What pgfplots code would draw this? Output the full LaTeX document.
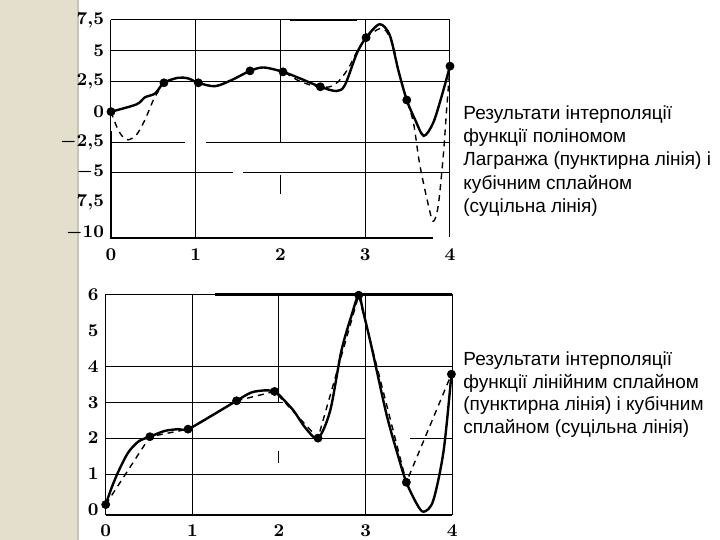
\documentclass[border=0pt]{standalone}
\usepackage{pgfplots}
\pgfplotsset{compat=1.18}
\usepackage{fontspec}
\newfontfamily\arialfont{Liberation Sans}
\definecolor{slidebg}{RGB}{228,223,205}
\definecolor{slideshadow}{RGB}{200,196,182}

\begin{document}
\begin{tikzpicture}
\useasboundingbox (0,0) rectangle (360pt,270pt);
\fill[white] (0,0) rectangle (360pt,270pt);
\fill[slidebg] (0,0) rectangle (38.5pt,270pt);
\fill[slideshadow] (38.5pt,0) rectangle (39.5pt,270pt);

% ---------------- top plot: Lagrange polynomial vs cubic spline
\begin{axis}[
  at={(55.5pt,151pt)}, anchor=south west,
  scale only axis, width=169.5pt, height=109pt,
  xmin=0, xmax=4, ymin=-10.4, ymax=7.55,
  axis line style={draw=none},
  xtick={0,1,2,3,4},
  ytick={-10,-7.5,-5,-2.5,0,2.5,5,7.5},
  yticklabels={$-10$,$7{,}5$,$-5$,$-2{,}5$,$0$,$2{,}5$,$5$,$7{,}5$},
  major tick length=0pt,
  tick label style={font=\boldmath\fontsize{9}{10}\selectfont},
  xticklabel style={yshift=-2pt},
  clip=false,
]
% grid lines
\draw[line width=0.5pt] (axis cs:0,5) -- (axis cs:4,5);
\draw[line width=0.5pt] (axis cs:0,2.5) -- (axis cs:4,2.5);
\draw[line width=0.5pt] (axis cs:0,-2.5) -- (axis cs:0.87,-2.5);
\draw[line width=0.5pt] (axis cs:1.12,-2.5) -- (axis cs:4,-2.5);
\draw[line width=0.5pt] (axis cs:0,-5) -- (axis cs:1.44,-5);
\draw[line width=0.5pt] (axis cs:1.56,-5) -- (axis cs:4,-5);
\draw[line width=0.5pt] (axis cs:1,7.55) -- (axis cs:1,-10.4);
\draw[line width=0.5pt] (axis cs:2,7.55) -- (axis cs:2,-2.5);
\draw[line width=0.5pt] (axis cs:2,-5.2) -- (axis cs:2,-6.8);
\draw[line width=0.5pt] (axis cs:3,7.55) -- (axis cs:3,-10.4);
% frame
\draw[line width=0.5pt] (axis cs:0,7.55) -- (axis cs:4,7.55) -- (axis cs:4,-10.3);
\draw[line width=1.1pt] (axis cs:2.11,7.55) -- (axis cs:2.9,7.55);
\draw[line width=0.5pt] (axis cs:0,7.55) -- (axis cs:0,-1.6);
\draw[line width=1.1pt] (axis cs:0,-1.6) -- (axis cs:0,-10.4) -- (axis cs:3.8,-10.4);

% Lagrange polynomial (dashed)
\addplot[black, line width=0.7pt, dash pattern=on 3pt off 2.5pt, smooth, tension=0.5] coordinates {
(0,0) (0.067,-1.23) (0.13,-2.0) (0.20,-2.32) (0.30,-1.91) (0.40,-0.68)
(0.50,0.96) (0.58,1.92) (0.625,2.38) (0.79,2.79) (0.91,2.74) (1.03,2.38)
(1.23,2.1) (1.44,2.66) (1.64,3.36) (1.80,3.64) (2.03,3.28) (2.2,2.6)
(2.35,2.2) (2.47,2.05) (2.58,2.05) (2.68,2.46) (2.80,3.56) (2.90,4.92)
(3.01,6.10) (3.10,6.56) (3.17,6.84) (3.24,6.70) (3.32,5.6) (3.40,3.2)
(3.49,0.96) (3.57,-0.95) (3.64,-4.23) (3.73,-7.24) (3.80,-9.02)
(3.86,-7.79) (3.92,-3.69) (3.96,0.14) (4,3.75)
};
% cubic spline (solid)
\addplot[black, line width=1.2pt, smooth, tension=0.5] coordinates {
(0,0) (0.30,0.6) (0.40,1.18) (0.52,1.5) (0.625,2.38) (0.79,2.79)
(0.91,2.74) (1.03,2.38) (1.23,2.1) (1.44,2.66) (1.64,3.36) (1.80,3.64)
(2.03,3.28) (2.23,2.74) (2.47,2.05) (2.66,1.70) (2.76,2.19) (2.90,4.79)
(3.01,6.10) (3.17,7.2) (3.29,6.29) (3.39,3.42) (3.49,0.96) (3.59,-0.68)
(3.69,-1.99) (3.80,-0.95) (3.90,1.23) (4,3.75)
};
% nodes
\addplot[only marks, mark=*, mark size=2pt, black] coordinates {
(0,0) (0.625,2.38) (1.03,2.38) (1.64,3.36) (2.03,3.28) (2.47,2.05)
(3.01,6.10) (3.49,0.96) (4,3.75)
};
\end{axis}

% ---------------- bottom plot: linear spline vs cubic spline
\begin{axis}[
  at={(52.85pt,12.5pt)}, anchor=south west,
  scale only axis, width=173.3pt, height=110.25pt,
  xmin=0, xmax=4, ymin=-0.14, ymax=6,
  axis line style={draw=none},
  xtick={0,1,2,3,4},
  ytick={0,1,2,3,4,5,6},
  major tick length=0pt,
  tick label style={font=\boldmath\fontsize{9}{10}\selectfont},
  xticklabel style={yshift=-1.2pt},
  clip=false,
]
% grid lines
\draw[line width=0.5pt] (axis cs:0,4) -- (axis cs:4,4);
\draw[line width=0.5pt] (axis cs:0,3) -- (axis cs:2.05,3);
\draw[line width=0.5pt] (axis cs:0,2) -- (axis cs:2.99,2);
\draw[line width=0.5pt] (axis cs:3.51,2) -- (axis cs:4,2);
\draw[line width=0.5pt] (axis cs:0,1) -- (axis cs:4,1);
\draw[line width=0.5pt] (axis cs:1,6) -- (axis cs:1,-0.14);
\draw[line width=0.5pt] (axis cs:2,6) -- (axis cs:2,3);
\draw[line width=0.5pt] (axis cs:2,1.65) -- (axis cs:2,1.3);
\draw[line width=0.5pt] (axis cs:3,6) -- (axis cs:3,-0.14);
% frame
\draw[line width=0.6pt] (axis cs:0,-0.14) -- (axis cs:0,6) -- (axis cs:4,6) -- (axis cs:4,-0.14);
\draw[line width=1.1pt] (axis cs:1.26,6) -- (axis cs:4,6);
\draw[line width=0.6pt] (axis cs:0,-0.14) -- (axis cs:0.53,-0.14);
\draw[line width=1.1pt] (axis cs:0.53,-0.14) -- (axis cs:4,-0.14);

% linear spline (dashed)
\addplot[black, line width=0.7pt, dash pattern=on 3pt off 2.5pt] coordinates {
(0,0.15) (0.51,2.04) (0.95,2.25) (1.51,3.04) (1.95,3.30) (2.45,2.0)
(2.92,5.98) (3.47,0.77) (3.99,3.78)
};
% cubic spline (solid)
\addplot[black, line width=1.2pt, smooth, tension=0.5] coordinates {
(0,0.15) (0.07,0.63) (0.15,1.09) (0.26,1.60) (0.38,1.91) (0.51,2.04)
(0.68,2.20) (0.84,2.25) (0.95,2.25) (1.22,2.62) (1.51,3.04) (1.68,3.27)
(1.84,3.33) (1.95,3.30) (2.01,3.18) (2.17,2.76) (2.30,2.30) (2.45,2.0)
(2.59,2.76) (2.72,4.43) (2.84,5.44) (2.92,5.98) (2.97,5.54) (3.07,4.52)
(3.24,2.67) (3.38,1.46) (3.47,0.77) (3.59,0.17) (3.67,-0.05) (3.78,0.26)
(3.90,1.65) (3.99,3.78)
};
% nodes
\addplot[only marks, mark=*, mark size=2pt, black] coordinates {
(0,0.15) (0.51,2.04) (0.95,2.25) (1.51,3.04) (1.95,3.30) (2.45,2.0)
(2.92,5.98) (3.47,0.77) (3.99,3.78)
};
\end{axis}

% ---------------- captions
\begin{scope}[every node/.style={anchor=base west, inner sep=0pt, font=\arialfont\fontsize{9.5}{11}\selectfont}]
\node at (231.5pt,210.35pt) {Результати інтерполяції};
\node at (231.5pt,198.65pt) {функції поліномом};
\node at (231.5pt,187pt) {Лагранжа (пунктирна лінія) і};
\node at (231.5pt,175.35pt) {кубічним сплайном};
\node at (231.5pt,163.65pt) {(суцільна лінія)};
\node at (231.5pt,87pt) {Результати інтерполяції};
\node at (231.5pt,75.85pt) {функції лінійним сплайном};
\node at (231.5pt,64.5pt) {(пунктирна лінія) і кубічним};
\node at (231.5pt,53.35pt) {сплайном (суцільна лінія)};
\end{scope}
\end{tikzpicture}
\end{document}
